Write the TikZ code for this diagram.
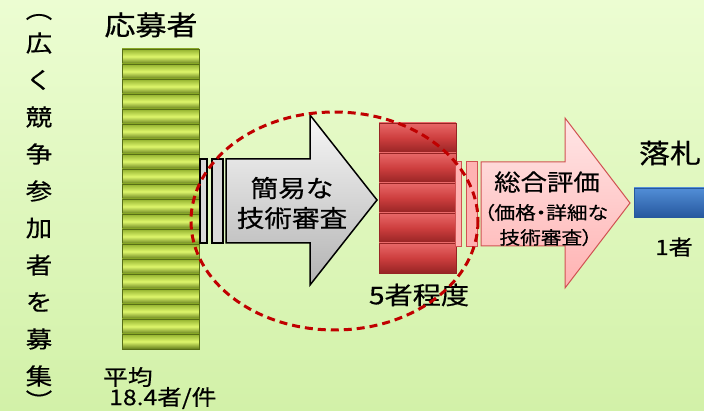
\documentclass[tikz,border=0pt]{standalone}
\usepackage{fontspec}
\setmainfont[FakeStretch=1.15, FakeBold=0.5]{Noto Sans CJK JP}
\usepackage{tikz}
\usetikzlibrary{positioning}
\usetikzlibrary{shapes,backgrounds,arrows}
\definecolor{bgtop}{RGB}{236,253,210}
\definecolor{bgbot}{RGB}{210,241,168}
\definecolor{olivedark}{RGB}{88,110,22}
\definecolor{olivetop}{RGB}{145,176,45}
\definecolor{olivemid}{RGB}{222,246,108}
\definecolor{olivelow}{RGB}{98,124,26}
\definecolor{redtop}{RGB}{232,104,104}
\definecolor{redmid}{RGB}{205,62,62}
\definecolor{redbot}{RGB}{150,36,36}
\definecolor{pinktop}{RGB}{255,230,230}
\definecolor{pinkbot}{RGB}{255,178,178}
\definecolor{pinkline}{RGB}{208,82,82}
\definecolor{bluetop}{RGB}{82,142,215}
\definecolor{bluebot}{RGB}{38,88,158}
\definecolor{circlered}{RGB}{192,0,0}
\tikzstyle{jptext} = [inner sep=0pt, text=black]
\tikzstyle{greenbar} = [draw=olivedark, line width=0.8pt, top color=olivetop, bottom color=olivelow, middle color=olivemid]
\tikzstyle{redbar} = [draw=redbot, line width=0.6pt, top color=redtop, bottom color=redbot, middle color=redmid]
\tikzstyle{graybar} = [draw=black, line width=1.5pt, fill=black!15]
\tikzstyle{pinkbar} = [draw=pinkline, line width=1pt, fill=pinkbot]

\begin{document}
\begin{tikzpicture}[x=1pt, y=-1pt]
	\useasboundingbox (0, 0) rectangle (704, 411);
	\shade[top color=bgtop, bottom color=bgbot] (0, 0) rectangle (704, 411);

	\node[jptext, font=\fontsize{23}{23}\selectfont] (vopen) at (39, 17) {︵};
	\foreach \c [count=\i] in {広,く,競,争,参,加,者,を,募,集}
		\node[jptext, font=\fontsize{23}{23}\selectfont] (v\i) at (39, 6+37*\i) {\c};
	\node[jptext, font=\fontsize{23}{23}\selectfont] (vclose) at (39, 400) {︶};

	\node[jptext, font=\fontsize{27}{27}\selectfont] (applicants) at (151, 25) {応募者};
	\foreach \k in {0,...,19}
		\draw[greenbar] (122, 49+15*\k) rectangle (199, 64+15*\k) {};
	\node[jptext, anchor=west, font=\fontsize{21.5}{21.5}\selectfont] (average) at (103, 377) {平均};
	\node[jptext, anchor=west, font=\fontsize{21.5}{21.5}\selectfont] (avgcount) at (109, 398) {18.4者/件};

	\draw[graybar] (200, 159) rectangle (207, 243) {};
	\draw[graybar] (212, 159) rectangle (223, 243) {};
	\draw[line width=1.5pt, top color=black!3, bottom color=black!30] (226, 159) -- (310, 159) -- (310, 115) -- (377, 200) -- (310, 285) -- (310, 243) -- (226, 243) -- cycle;
	\node[jptext, align=center, font=\fontsize{24}{30}\selectfont] (simple) at (292, 203) {簡易な\\技術審査};

	\foreach \k in {0,...,4}
		\draw[redbar] (379, 123+30*\k) rectangle (456, 153+30*\k) {};
	\node[jptext, font=\fontsize{24.5}{24.5}\selectfont] (five) at (419, 295) {5者程度};

	\draw[pinkbar] (455, 162) rectangle (461, 247) {};
	\draw[pinkbar] (466, 162) rectangle (477, 247) {};
	\draw[draw=pinkline, line width=1pt, top color=pinktop, bottom color=pinkbot] (481, 162) -- (565, 162) -- (565, 118) -- (630, 203) -- (565, 288) -- (565, 246) -- (481, 246) -- cycle;
	\node[jptext, font=\fontsize{23}{23}\selectfont] (overall) at (547, 182) {総合評価};
	\node[jptext, align=center, font=\fontsize{18}{25}\selectfont\addfontfeature{RawFeature=+palt}] (detail) at (546, 225) {（価格・詳細な\\技術審査）};

	\node[jptext, font=\fontsize{27}{27}\selectfont] (award) at (670, 153) {落札};
	\draw[draw=bluebot, line width=0.6pt, top color=bluetop, bottom color=bluebot] (634, 188) rectangle (704, 217) {};
	\node[jptext, font=\fontsize{21}{21}\selectfont] (one) at (674, 247) {1者};

	\draw[circlered, line width=3pt, dash pattern=on 8pt off 5pt] (334.5, 221) ellipse [x radius=143.5, y radius=109];
\end{tikzpicture}
\end{document}
